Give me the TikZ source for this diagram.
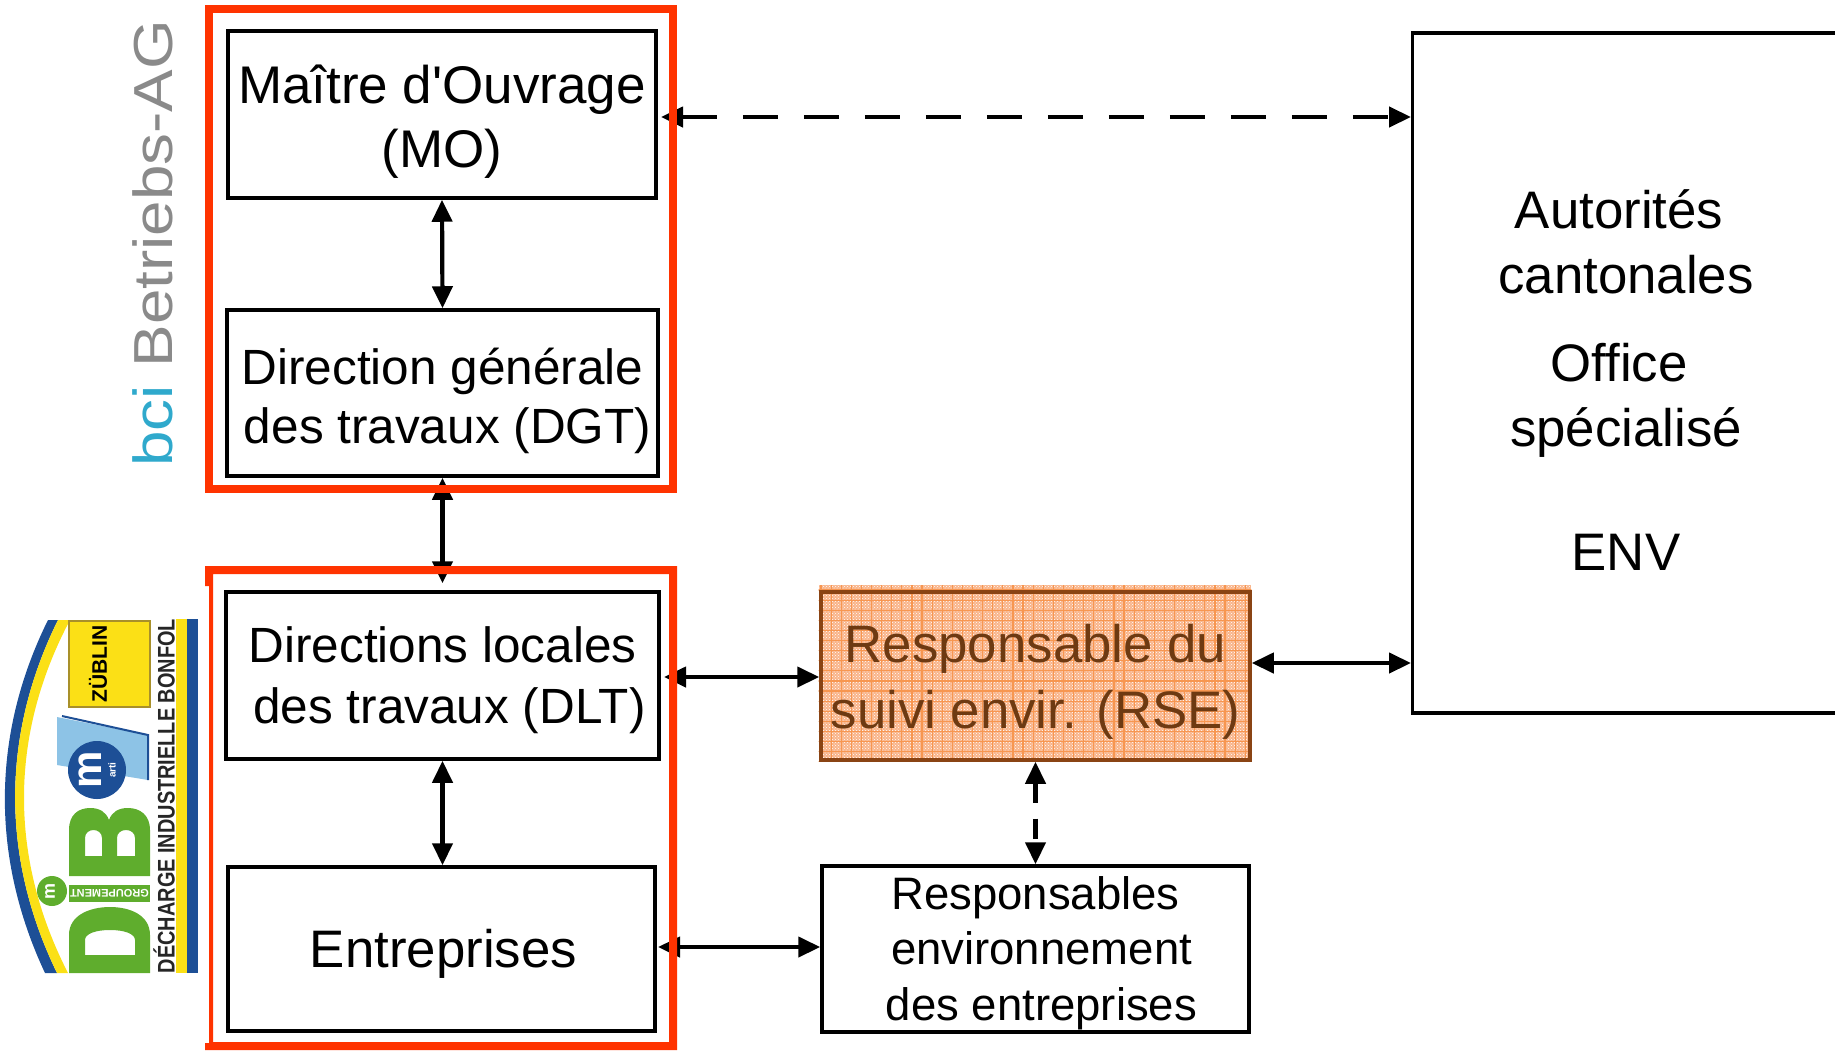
\documentclass[tikz,border=0pt]{standalone}
\usepackage{fontspec}
\setmainfont{Liberation Sans}
\newfontfamily\plainfont{Liberation Sans}
\newfontfamily\bcifont[FakeStretch=1.16]{Liberation Sans}
\newfontfamily\narrowbold[FakeStretch=0.83]{Liberation Sans Bold}
\definecolor{redframe}{HTML}{FF3300}
\definecolor{rsefill}{HTML}{F9B48A}
\definecolor{rsegrid}{HTML}{F79650}
\definecolor{rseline}{HTML}{8A4414}
\definecolor{rsetext}{HTML}{6E3A12}
\definecolor{bcicyan}{HTML}{2FA9CC}
\definecolor{bcigray}{HTML}{8A8A8A}
\definecolor{logoblue}{HTML}{1D4F96}
\definecolor{logoyellow}{HTML}{FBE016}
\definecolor{logogreen}{HTML}{5FAD2D}
\definecolor{logosky}{HTML}{8DC3E6}
\definecolor{logoolive}{HTML}{A8902A}
\newcommand{\fs}[2]{\fontsize{#1}{#2}\selectfont}
\newcommand{\pad}[1]{\rule{0pt}{\dimexpr .74em+#1pt+#1pt\relax}}
\usetikzlibrary{arrows.meta,patterns}
\tikzset{
  x=1pt,y=-1pt,
  box/.style={draw=black,line width=3.5pt,fill=white,inner sep=0pt,align=center,text=black},
  link/.style={line width=4.2pt,{Triangle[width=20pt,length=22pt]}-{Triangle[width=20pt,length=22pt]}},
  dashlink/.style={link,dash pattern=on 35pt off 26pt},
  shortdash/.style={link,dash pattern=on 20pt off 16pt},
  logotxt/.style={inner sep=0pt,font=\narrowbold},
}
\begin{document}
\begin{tikzpicture}
\useasboundingbox (0,0) rectangle (1835,1050);
% logo DIB
\fill[logoblue] (48,620) .. controls (-9,735) and (-9,858) .. (45,973) -- (57,973) .. controls (1,858) and (1,735) .. (58,620) -- cycle;
\fill[logoyellow] (58,620) .. controls (1,735) and (1,858) .. (57,973) -- (68,973) .. controls (9,858) and (9,735) .. (70,620) -- cycle;
\fill[logoblue] (187,619) rectangle (198,973);
\fill[logoyellow] (176,619) rectangle (187,973);
\node[logotxt,rotate=90,text=black!85,font=\narrowbold\fs{24}{24}] (dib) at (164,796) {DÉCHARGE INDUSTRIELLE BONFOL};
\node[draw=logoolive,line width=1.5pt,fill=logoyellow,minimum width=81pt,minimum height=86pt,inner sep=0pt] (zu) at (109.5,664) {};
\node[rotate=90,inner sep=0pt,font=\bfseries\fs{21}{21}] (zut) at (98,664) {ZÜBLIN};
\fill[logosky] (57,717) -- (148,735) -- (148,780) -- (57,765) -- cycle;
\draw[logoblue,line width=2pt] (62,716) -- (148,735) -- (148,780);
\node[circle,fill=logoblue,minimum width=58pt,minimum height=58pt,inner sep=0pt] (mc) at (97,770) {};
\node[rotate=90,text=white,inner sep=0pt,font=\bfseries\fs{42}{42}] (mm) at (90,770) {m};
\node[rotate=90,text=white,inner sep=0pt,font=\bfseries\fs{10}{10}] (ma) at (112,770) {arti};
% D
\fill[logogreen,even odd rule] (69,973) -- (150,973) -- (150,935) .. controls (150,915) and (130,907) .. (110,907) .. controls (90,907) and (69,915) .. (69,935) -- cycle
  (85,955) -- (135,955) -- (135,940) .. controls (135,934) and (125,930) .. (110,930) .. controls (95,930) and (85,934) .. (85,940) -- cycle;
% band
\node[fill=logogreen,minimum width=81pt,minimum height=17pt,inner sep=0pt,text=white,rotate=180,font=\bfseries\fs{11}{11}] (gr) at (109.5,893.5) {GROUPEMENT};
\node[circle,fill=logogreen,minimum width=30pt,inner sep=0pt] (gc) at (52,891) {};
\node[rotate=90,text=white,inner sep=0pt,font=\bfseries\fs{18}{18}] (gm) at (50,891) {m};
% B
\fill[logogreen,even odd rule] (69,876) -- (150,876) -- (150,830) .. controls (150,815) and (140,808) .. (128,808) .. controls (118,808) and (112,812) .. (109,820) .. controls (106,812) and (100,808) .. (90,808) .. controls (78,808) and (69,815) .. (69,830) -- cycle
  (85,856) -- (102,856) -- (102,838) .. controls (102,833) and (98,830) .. (93.5,830) .. controls (89,830) and (85,833) .. (85,838) -- cycle
  (117,856) -- (135,856) -- (135,838) .. controls (135,833) and (131,830) .. (126,830) .. controls (121,830) and (117,833) .. (117,838) -- cycle;
% bci
\node[rotate=90,anchor=south west,inner sep=0pt,font=\bcifont\fs{55}{55}] (bci) at (173,467) {\textcolor{bcicyan}{bci} \textcolor{bcigray}{Betriebs-AG}};
% boxes
\node[box,minimum width=428pt,minimum height=167pt,font=\fs{53}{64}] (mo) at (442,114.5) {\pad{7}Maître d{\plainfont '}Ouvrage\\(MO)};
\node[box,minimum width=431pt,minimum height=166pt,font=\fs{49.5}{59}] (dgt) at (442.5,393) {\pad{8}Direction générale\\\hspace*{10pt}des travaux (DGT)};
\node[box,minimum width=433pt,minimum height=167pt,font=\fs{49.5}{61}] (dlt) at (442.5,675.5) {\pad{4}Directions locales\\\hspace*{14pt}des travaux (DLT)};
\node[box,minimum width=427pt,minimum height=164pt,font=\fs{52.8}{60}] (ent) at (441.5,949) {\pad{4}\hspace*{4pt}Entreprises};
\node[draw=none,fill=rsefill,minimum width=432.5pt,minimum height=176pt,inner sep=0pt] (halo) at (1035,673) {};
\begin{scope}
\clip (halo.north west) rectangle (halo.south east);
\fill[pattern=crosshatch dots,pattern color=white] (halo.north west) rectangle (halo.south east);
\foreach \gx in {0,1,...,44} \draw[rsegrid,line width=1.2pt] (821+\gx*10.1,585) -- (821+\gx*10.1,761);
\foreach \gy in {0,1,...,18} \draw[rsegrid,line width=1.2pt] (818,590+\gy*10.1) -- (1252,590+\gy*10.1);
\end{scope}
\node[draw=rseline,line width=3.5pt,inner sep=0pt,align=center,text=rsetext,minimum width=429pt,minimum height=168pt,font=\fs{52.8}{66}] (rse) at (1035.5,676) {\pad{5}Responsable du\\suivi envir. (RSE)};
\node[box,minimum width=427pt,minimum height=166pt,font=\fs{45.5}{55.5}] (resp) at (1035.5,949) {\pad{3.5}Responsables\\\hspace*{12pt}environnement\\\hspace*{12pt}des entreprises};
\node[box,anchor=north west,minimum width=430pt,minimum height=680pt] (aut) at (1410.5,31) {};
\node[inner sep=0pt,align=center,font=\fs{52.8}{65}] (auttxt) at (1626,380) {\hspace*{-14pt}Autorités\\cantonales\\[23pt]\hspace*{-14pt}Office\\spécialisé\\[59pt]ENV};
% connectors
\coordinate (mor) at (661,117);
\coordinate (autl) at (1411,117);
\draw[link] (mo.south) -- (dgt.north);
\draw[link,shorten >=7pt] (dgt.south) -- (dlt.north);
\draw[link] (dlt.south) -- (ent.north -| dlt.south);
\draw[dashlink] (mor) -- (autl);
\coordinate (dltr) at (664,677);
\draw[link] (dltr) -- (rse.west |- dltr);
\coordinate (entr) at (658,947);
\draw[link] (entr) -- (resp.west |- entr);
\coordinate (autm) at (1411,663);
\draw[link] (rse.east |- autm) -- (autm);
\draw[shortdash] (rse.south) -- (resp.north);
% red frames on top
\draw[redframe,line width=8pt] (209,9) rectangle (673,489);
\fill[redframe,even odd rule] (205,566) -- (677,566) -- (677,1050) -- (205,1050) -- (205,1043) -- (209,1043) -- (209,586) -- (205,586) -- cycle
  (213,574) -- (213,1042) -- (669,1042) -- (669,574) -- cycle;
\end{tikzpicture}
\end{document}
